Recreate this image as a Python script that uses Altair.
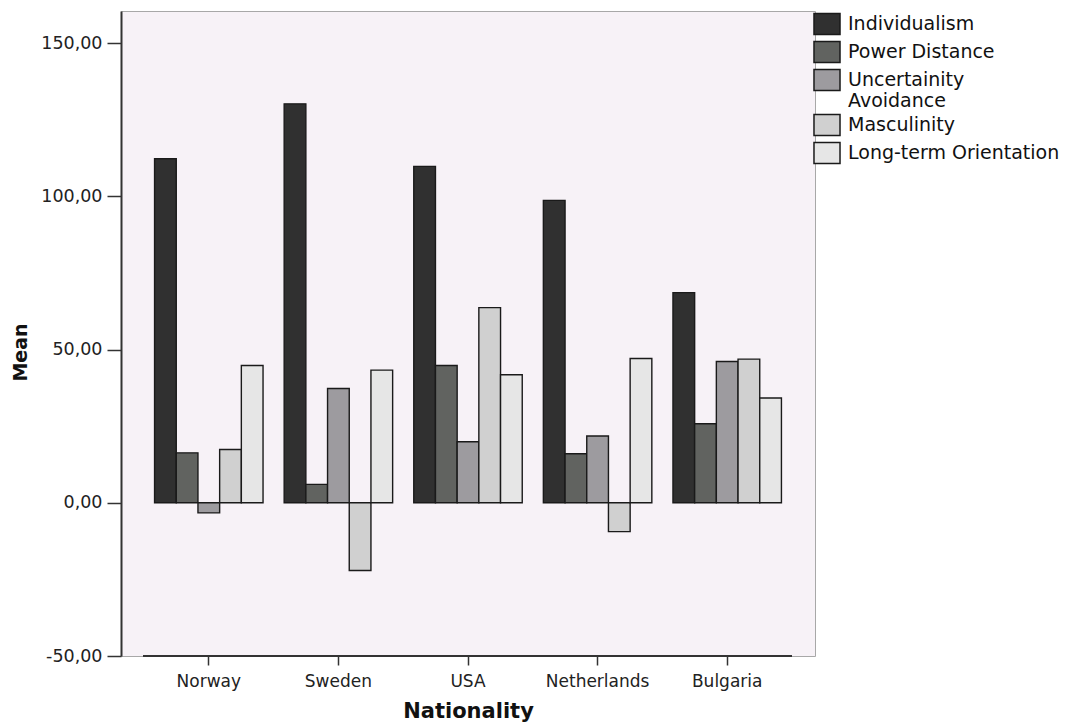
import altair as alt
import pandas as pd

nationalities = ["Norway", "Sweden", "USA", "Netherlands", "Bulgaria"]
series = ["Individualism", "Power Distance", "Uncertainity Avoidance",
          "Masculinity", "Long-term Orientation"]
individualism = [112.3, 130.2, 109.8, 98.7, 68.6]
power_distance = [16.3, 6.0, 44.8, 16.0, 25.8]
uncertainty = [-3.3, 37.3, 19.9, 21.8, 46.1]
masculinity = [17.4, -22.1, 63.7, -9.4, 46.9]
long_term = [44.8, 43.3, 41.8, 47.1, 34.2]
colors = ["#303030", "#616360", "#9d9b9f", "#d0d0d0", "#e6e6e6"]
y_ticks = [-50, 0, 50, 100, 150]

rows = []
for s, vals in zip(series, [individualism, power_distance, uncertainty,
                            masculinity, long_term]):
    for n, v in zip(nationalities, vals):
        rows.append({"Nationality": n, "Series": s, "Mean": v})
df = pd.DataFrame(rows)

font = "DejaVu Sans"

bars = alt.Chart(df).mark_bar(
    stroke="#1a1a1a", strokeWidth=1.4
).encode(
    x=alt.X("Nationality:N", sort=nationalities,
            scale=alt.Scale(paddingInner=0.163, paddingOuter=0.259),
            axis=alt.Axis(title="Nationality", domain=False, tickSize=9,
                          tickColor="#333333", tickWidth=1.5, labelAngle=0,
                          labelFont=font, labelFontSize=17, labelColor="#222222",
                          labelPadding=8, titleFont=font, titleFontSize=21,
                          titleFontWeight="bold", titleColor="#111111",
                          titleY=55, titleBaseline="middle")),
    xOffset=alt.XOffset("Series:N", sort=series,
                        scale=alt.Scale(paddingInner=0, paddingOuter=0)),
    y=alt.Y("Mean:Q",
            scale=alt.Scale(domain=[-50, 160.5], nice=False, zero=False),
            axis=alt.Axis(title="Mean", values=y_ticks, grid=False,
                          labelExpr="replace(replace(format(datum.value, '.2f'), '.', ','), '\u2212', '-')",
                          domainColor="#333333", domainWidth=2,
                          tickSize=14, tickColor="#333333", tickWidth=1.5,
                          labelFont=font, labelFontSize=17.5, labelColor="#222222",
                          labelPadding=5, titleFont=font, titleFontSize=19,
                          titleFontWeight="bold", titleColor="#111111",
                          titleAngle=270, titleX=-101, titleY=341,
                          titleAlign="center", titleBaseline="middle")),
    color=alt.Color("Series:N", sort=series,
                    scale=alt.Scale(domain=series, range=colors),
                    legend=alt.Legend(
                        title=None, orient="none", legendX=693, legendY=0,
                        padding=0, rowPadding=0, offset=0,
                        symbolType="M-1.1,-0.89H1.1V0.89H-1.1Z", symbolSize=560,
                        symbolStrokeColor="#1a1a1a", symbolStrokeWidth=1.5,
                        symbolOpacity=1,
                        labelFont=font, labelFontSize=19, labelColor="#111111",
                        labelOffset=8, labelLimit=400,
                        labelExpr="datum.label == 'Uncertainity Avoidance' ? ['Uncertainity', 'Avoidance'] : datum.label")),
)

base_rule = alt.Chart(df).mark_rule(color="#333333", strokeWidth=2).encode(
    x=alt.value(22), x2=alt.value(671), y=alt.value(645)
)

chart = alt.layer(bars, base_rule).properties(
    width=694, height=645,
    autosize=alt.AutoSizeParams(type="none"),
    padding={"left": 113, "top": 3, "right": 253, "bottom": 78},
    view=alt.ViewBackground(fill="#f7f2f7", stroke="#a8a8a8", strokeWidth=1),
).configure_view(
    fill="#f7f2f7", stroke="#a8a8a8", strokeWidth=1
).configure(background="white")

chart.save("out.html", embed_options={"renderer": "svg", "actions": False})
